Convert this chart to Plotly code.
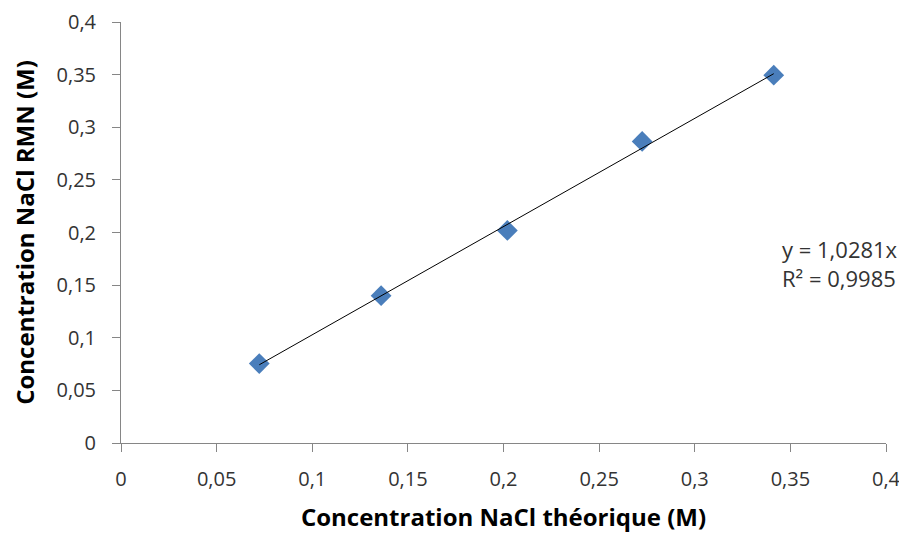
import plotly.graph_objects as go

# Data
x_theorique = [0.0723, 0.136, 0.202, 0.2725, 0.3413]
y_rmn = [0.0755, 0.140, 0.202, 0.2865, 0.3495]
slope = 1.0281
r2_text = "0,9985"
x_ticks = [0, 0.05, 0.1, 0.15, 0.2, 0.25, 0.3, 0.35, 0.4]

trend_x = [x_theorique[0], x_theorique[-1]]
trend_y = [slope * v for v in trend_x]

font_family = "Open Sans, Liberation Sans, sans-serif"

fig = go.Figure()
fig.add_trace(go.Scatter(
    x=x_theorique, y=y_rmn, mode="markers",
    marker=dict(symbol="diamond", size=16, color="#4A7EBB",
                line=dict(width=0)),
    showlegend=False,
))
fig.add_trace(go.Scatter(
    x=trend_x, y=trend_y, mode="lines",
    line=dict(color="black", width=1),
    showlegend=False,
))

axis_common = dict(
    range=[0, 0.4], tickvals=x_ticks, showgrid=False, zeroline=False,
    showline=True, linecolor="#868686", linewidth=1,
    ticks="outside", ticklen=8, tickcolor="#868686",
    tickfont=dict(family=font_family, size=20, color="#333333"),
    automargin=False,
)

# page body has an 8px margin, so the figure is sized/offset to compensate
fig.update_layout(
    width=899, height=525,
    margin=dict(l=113, r=21, t=14, b=90),
    plot_bgcolor="white", paper_bgcolor="white",
    separators=", ",
    font=dict(family=font_family),
    xaxis=dict(**axis_common, ticklabelstandoff=10,
               title=dict(text="<b>Concentration NaCl théorique (M)</b>",
                          font=dict(family=font_family, size=24, color="black"),
                          standoff=19)),
    yaxis=dict(**axis_common, ticklabelstandoff=12,
               title=dict(text="<b>Concentration NaCl RMN (M)</b>",
                          font=dict(family=font_family, size=24, color="black"),
                          standoff=15)),
    annotations=[dict(
        x=0.3445, y=0.171, xref="x", yref="y", xanchor="left", yanchor="middle",
        text=f"y = {str(slope).replace('.', ',')}x<br>R² = {r2_text}",
        showarrow=False, align="left",
        font=dict(family=font_family, size=22, color="#333333"),
    )],
)

fig.write_html("out.html")
